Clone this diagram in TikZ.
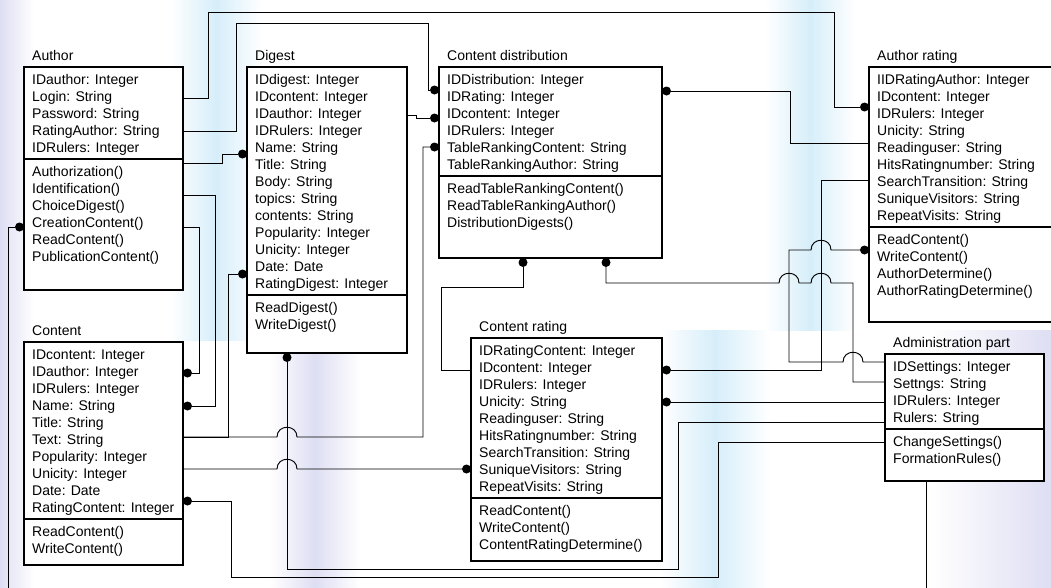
\documentclass[tikz,border=0pt]{standalone}
\usepackage{fontspec}
\setmainfont{Liberation Sans}
\usetikzlibrary{calc}
\newcommand\cf{\fontsize{14}{17}\selectfont}
\newcommand\umlrows[4]{\foreach \t [count=\i] in {#4}{\node[row] (#1\i) at (#2,{#3+17*(\i-1)}) {\t};}}
\definecolor{bglav}{RGB}{222,222,244}
\definecolor{bgsky}{RGB}{214,238,250}
\tikzset{
 row/.style={anchor=west, inner sep=0pt, font=\cf, text height=10pt, text depth=0pt},
 box/.style={draw, line width=1.1pt, fill=white, inner sep=0pt, outer sep=0pt, anchor=north west},
 dot/.style={circle, fill, inner sep=0pt, minimum size=9pt},
 conn/.style={line width=0.95pt},
 band/.style={left color=white, right color=white, middle color=#1},
}
\begin{document}
\begin{tikzpicture}[x=1pt,y=-1pt]
\useasboundingbox (0,0) rectangle (1051,587);
% faint watermark
\shade[left color=bglav, right color=white] (0,0) rectangle (34,587);
\shade[band=bgsky] (170,0) rectangle (262,340);
\shade[band=bgsky] (765,0) rectangle (855,330);
\shade[band=bgsky] (660,330) rectangle (770,587);
\shade[band=bglav] (270,330) rectangle (360,587);
\shade[left color=white, right color=bglav] (930,330) rectangle (1051,587);

% ---------- boxes ----------
\node[box, minimum width=159, minimum height=92]  (aA)  at (24,67) {};
\node[box, minimum width=159, minimum height=131] (aM)  at (24,159) {};
\node[box, minimum width=160, minimum height=228] (dA)  at (247,67) {};
\node[box, minimum width=160, minimum height=58]  (dM)  at (247,295) {};
\node[box, minimum width=223, minimum height=109] (cdA) at (439,67) {};
\node[box, minimum width=223, minimum height=82]  (cdM) at (439,176) {};
\node[box, minimum width=190, minimum height=160] (arA) at (869,67) {};
\node[box, minimum width=190, minimum height=95]  (arM) at (869,227) {};
\node[box, minimum width=159, minimum height=177] (cA)  at (24,342) {};
\node[box, minimum width=159, minimum height=46]  (cM)  at (24,519) {};
\node[box, minimum width=191, minimum height=160] (crA) at (471,338) {};
\node[box, minimum width=191, minimum height=63]  (crM) at (471,498) {};
\node[box, minimum width=159, minimum height=75]  (apA) at (885,354) {};
\node[box, minimum width=159, minimum height=52]  (apM) at (885,429) {};

% ---------- titles ----------
\node[row] (aT)  at (32,55)  {Author};
\node[row] (dT)  at (255,55) {Digest};
\node[row] (cdT) at (447,55) {Content distribution};
\node[row] (arT) at (877,55) {Author rating};
\node[row] (cT)  at (32,330) {Content};
\node[row] (crT) at (479,326) {Content rating};
\node[row] (apT) at (893,342) {Administration part};

% ---------- rows ----------
\umlrows{aa}{32}{79.5}{IDauthor: Integer, Login: String, Password: String, RatingAuthor: String, IDRulers: Integer}
\umlrows{am}{32}{171.5}{Authorization(), Identification(), ChoiceDigest(), CreationContent(), ReadContent(), PublicationContent()}
\umlrows{da}{255}{79.5}{IDdigest: Integer, IDcontent: Integer, IDauthor: Integer, IDRulers: Integer, Name: String, Title: String, Body: String, topics: String, contents: String, Popularity: Integer, Unicity: Integer, Date: Date, RatingDigest: Integer}
\umlrows{dm}{255}{307.5}{ReadDigest(), WriteDigest()}
\umlrows{cda}{447}{79.5}{IDDistribution: Integer, IDRating: Integer, IDcontent: Integer, IDRulers: Integer, TableRankingContent: String, TableRankingAuthor: String}
\umlrows{cdm}{447}{188.5}{ReadTableRankingContent(), ReadTableRankingAuthor(), DistributionDigests()}
\umlrows{ara}{877}{79.5}{IIDRatingAuthor: Integer, IDcontent: Integer, IDRulers: Integer, Unicity: String, Readinguser: String, HitsRatingnumber: String, SearchTransition: String, SuniqueVisitors: String, RepeatVisits: String}
\umlrows{arm}{877}{239.5}{ReadContent(), WriteContent(), AuthorDetermine(), AuthorRatingDetermine()}
\umlrows{ca}{32}{354.5}{IDcontent: Integer, IDauthor: Integer, IDRulers: Integer, Name: String, Title: String, Text: String, Popularity: Integer, Unicity: Integer, Date: Date, RatingContent: Integer}
\umlrows{cm}{32}{531.5}{ReadContent(), WriteContent()}
\umlrows{cra}{479}{350.5}{IDRatingContent: Integer, IDcontent: Integer, IDRulers: Integer, Unicity: String, Readinguser: String, HitsRatingnumber: String, SearchTransition: String, SuniqueVisitors: String, RepeatVisits: String}
\umlrows{crm}{479}{510.5}{ReadContent(), WriteContent(), ContentRatingDetermine()}
\umlrows{apa}{893}{366.5}{IDSettings: Integer, Settngs: String, IDRulers: Integer, Rulers: String}
\umlrows{apm}{893}{441.5}{ChangeSettings(), FormationRules()}

% ---------- dots ----------
\node[dot] (arD1) at (864.5,107) {};
\node[dot] (cdD1) at (434.5,90) {};
\node[dot] (dD1)  at (242.5,154) {};
\node[dot] (cD1)  at (187.5,406) {};
\node[dot] (cD2)  at (187.5,373) {};
\node[dot] (aD1)  at (19.5,227) {};
\node[dot] (crD1) at (666.5,370) {};
\node[dot] (crD2) at (666.5,402) {};
\node[dot] (cdD2) at (606,262.5) {};
\node[dot] (arD2) at (864.5,250) {};
\node[dot] (cdD3) at (666.5,91) {};
\node[dot] (cdD4) at (434.5,118) {};
\node[dot] (cdD5) at (434.5,147) {};
\node[dot] (dD2)  at (242.5,274) {};
\node[dot] (crD3) at (466.5,469) {};
\node[dot] (cdD6) at (523,262.5) {};
\node[dot] (dD3)  at (287,357.5) {};
\node[dot] (cD3)  at (187.5,501) {};
\coordinate (offE) at (8,592);
\coordinate (offF) at (926,592);

% ---------- connectors ----------
\begin{scope}[conn]
\draw (aA.east |- 0,98) -- (208,98) -- (208,12) -- (834,12) -- (834,107) -- (arD1);
\draw (aA.east |- 0,131) -- (236,131) -- (236,23) -- (428,23) -- (428,90) -- (cdD1);
\draw (aM.east |- 0,163) -- (222,163) -- (222,154) -- (dD1);
\draw (aM.east |- 0,195) -- (215,195) -- (215,406) -- (cD1);
\draw (aM.east |- 0,227) -- (199,227) -- (199,373) -- (cD2);
\draw (aD1) -- (8,227) -- (offE);
\draw (apM.south -| offF) -- (offF);
\draw (crD1) -- (821,370) -- (821,180) -- (arA.west |- 0,180);
\draw (crD2) -- (apA.west |- 0,402);
\draw (cdD2) -- (606,283) -- (779,283) .. controls (779,270) and (799,270) .. (799,283)
      -- (811,283) .. controls (811,270) and (831,270) .. (831,283)
      -- (853,283) -- (853,382) -- (apA.west |- 0,382);
\draw (arD2) -- (831,250) .. controls (831,237) and (811,237) .. (811,250)
      -- (789,250) -- (789,362) -- (843,362) .. controls (843,349) and (863,349) .. (863,362)
      -- (apA.west |- 0,362);
\draw (cdD3) -- (790,91) -- (790,143) -- (arA.west |- 0,143);
\draw (dA.east |- 0,115) -- (416,115) -- (416,118) -- (cdD4);
\draw (cdD5) -- (423,147) -- (423,437) -- (297,437) .. controls (297,424) and (277,424) .. (277,437)
      -- (cA.east |- 0,437);
\draw (cA.east |- 0,437) -- (228,437) -- (228,274) -- (dD2);
\draw (cA.east |- 0,469) -- (277,469) .. controls (277,456) and (297,456) .. (297,469) -- (crD3);
\draw (cdD6) -- (523,287) -- (441,287) -- (441,370) -- (crA.west |- 0,370);
\draw (dD3) -- (287,569) -- (678,569) -- (678,422) -- (apA.west |- 0,422);
\draw (cD3) -- (231,501) -- (231,577) -- (718,577) -- (718,442) -- (apM.west |- 0,442);
\end{scope}
\end{tikzpicture}
\end{document}
